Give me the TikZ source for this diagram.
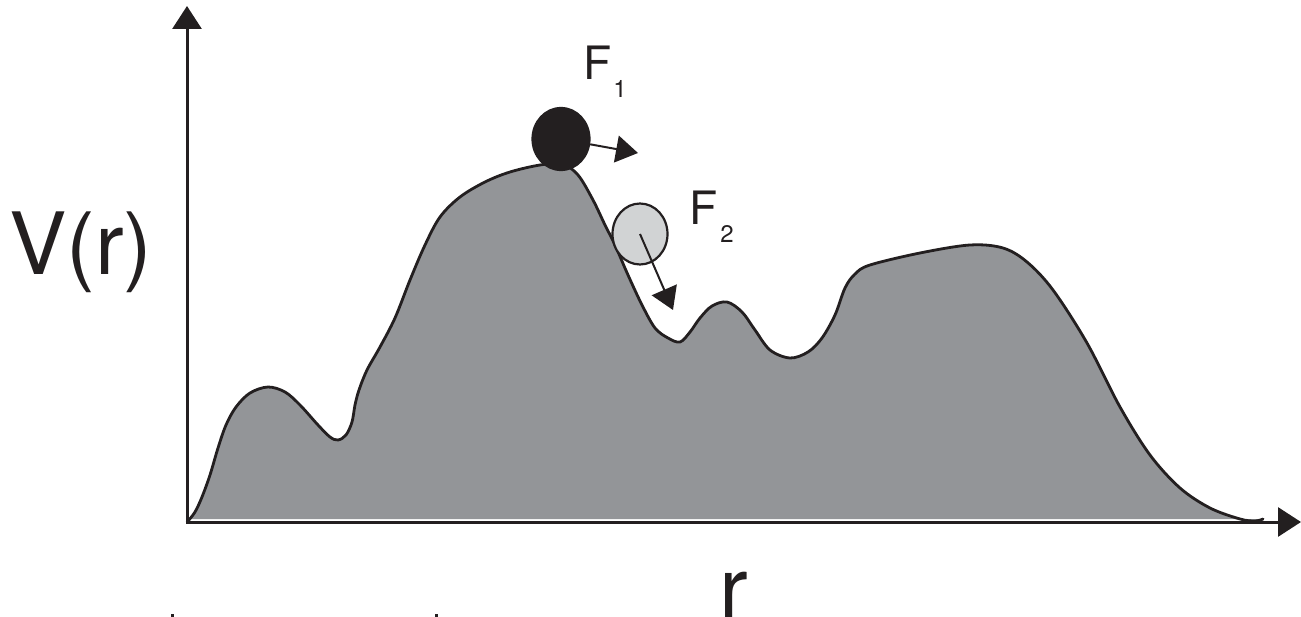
\documentclass[tikz,border=0pt]{standalone}
\usepackage{fontspec}
\setmainfont{TeX Gyre Heros}
\usetikzlibrary{arrows.meta,shapes.geometric}
\definecolor{hill}{RGB}{147,149,152}
\definecolor{ink}{RGB}{35,31,32}
\definecolor{ballgray}{RGB}{209,211,212}
\tikzset{
  axisline/.style={draw=ink, line width=3pt, -{Triangle[length=23pt,width=29pt]}},
  curveline/.style={draw=ink, line width=2.8pt, line join=round, line cap=round},
  farrow/.style={draw=ink, line width=2pt, -{Triangle[length=22pt,width=27pt]}},
  ball/.style={ellipse, inner sep=0pt, line width=2.2pt, draw=ink},
  biglabel/.style={inner sep=0pt, text=ink, font=\fontsize{86pt}{100pt}\selectfont},
  flabel/.style={inner sep=0pt, text=ink, font=\fontsize{46pt}{50pt}\selectfont},
}
\begin{document}
\begin{tikzpicture}[x=1pt,y=-1pt]
\useasboundingbox (0,0) rectangle (1301,617);
\def\hillpts{(188,521) (195,512) (202,497) (210,475) (218,448) (226,425) (236,407) (250,393) (268,387) (285,392) (300,405) (318,425) (330,437) (338,440) (346,435) (352,422) (355,405) (359,390) (367,370) (380,347) (395,318) (410,280) (425,245) (440,217) (460,197) (485,182) (510,172) (540,165) (562,164) (578,175) (593,200) (605,225) (615,245) (628,275) (642,305) (655,328) (668,338) (680,342) (690,332) (700,318) (712,306) (727,302) (742,312) (755,330) (770,350) (790,358) (808,352) (822,338) (835,315) (845,288) (855,274) (870,265) (920,253) (970,245) (1003,248) (1027,262) (1053,290) (1087,343) (1120,407) (1150,455) (1180,488) (1210,508) (1240,519) (1255,521) (1263,519)}
\fill[hill] (188,519) -- plot[smooth, tension=0.55] coordinates {\hillpts} -- (1263,519) -- cycle;
\draw[curveline] plot[smooth, tension=0.55] coordinates {\hillpts};
% axes
\coordinate (o) at (187,522);
\coordinate (ytip) at (187,6);
\coordinate (xtip) at (1301,522);
\draw[axisline] (o) -- (ytip);
\draw[axisline] ([xshift=-1.5pt]o) -- (xtip);
% balls
\node[ball, fill=ink, minimum width=57pt, minimum height=62pt] (b1) at (561,139) {};
\node[ball, fill=ballgray, minimum width=55pt, minimum height=61pt] (b2) at (640,234) {};
\coordinate (f1tip) at (638,153);
\coordinate (f2tip) at (673,310);
\draw[farrow] (b1) -- (f1tip);
\draw[farrow] (b2.center) -- (f2tip);
% labels
\node[flabel, anchor=base west] (F1) at (583,80) {F\hspace{2pt}\raisebox{-18pt}{\fontsize{24pt}{26pt}\selectfont 1}};
\node[flabel, anchor=base west] (F2) at (689,225) {F\hspace{3pt}\raisebox{-18pt}{\fontsize{24pt}{26pt}\selectfont 2}};
\node[biglabel, anchor=base west] (V) at (9,275) {V(r)};
\node[biglabel, anchor=base] (r) at (734,618) {r};
% tiny marks at the bottom edge
\fill[ink] (171,614) rectangle (174,617);
\fill[ink] (435,614) rectangle (438,617);
\end{tikzpicture}
\end{document}
